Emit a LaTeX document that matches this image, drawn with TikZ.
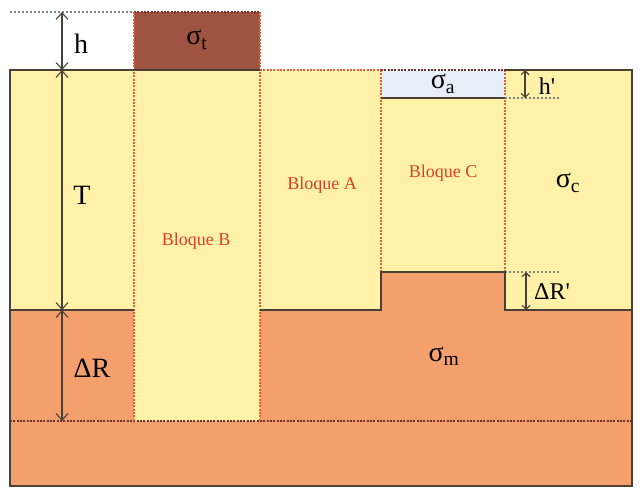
\documentclass[tikz,border=0pt]{standalone}
\usepackage{fontspec}
\setmainfont{Liberation Serif}
\usetikzlibrary{arrows.meta}
\definecolor{yel}{HTML}{FFF2A8}
\definecolor{org}{HTML}{F4A06C}
\definecolor{brn}{HTML}{9E5440}
\definecolor{lblue}{HTML}{E6EEF8}
\definecolor{edge}{HTML}{4A4038}
\definecolor{redl}{HTML}{E0603A}
\definecolor{redt}{HTML}{D8402C}
\tikzset{
  solidedge/.style={draw=edge, line width=1.1pt},
  reddot/.style={draw=redl, dash pattern=on 1.5pt off 1pt, line width=1pt},
  darkdot/.style={draw=edge!80!red, dash pattern=on 1.5pt off 1pt, line width=0.9pt},
  greydot/.style={draw=gray, dash pattern=on 1.5pt off 1.5pt, line width=1pt},
  dim/.style={draw=edge, line width=0.8pt, {Straight Barb[length=5pt,width=9pt]}-{Straight Barb[length=5pt,width=9pt]}},
  dims/.style={draw=edge, line width=0.8pt, {Straight Barb[length=3pt,width=6pt]}-{Straight Barb[length=3pt,width=6pt]}},
  biglab/.style={font=\fontsize{21}{24}\selectfont, text=black, inner sep=0pt},
  midlab/.style={font=\fontsize{18}{21}\selectfont, text=black, inner sep=0pt},
  bloque/.style={font=\fontsize{13.5}{15}\selectfont, text=redt, inner sep=0pt}
}
\begin{document}
\begin{tikzpicture}[x=0.75pt,y=-0.75pt]
\useasboundingbox (0,0) rectangle (642,496);
\fill[white] (0,0) rectangle (642,496);
% fills
\fill[org] (10,310) rectangle (632,486);
\fill[org] (381,272) rectangle (505,310);
\fill[yel] (10,70) rectangle (134,310);
\fill[yel] (134,70) rectangle (260,421);
\fill[yel] (260,70) rectangle (381,310);
\fill[yel] (381,98) rectangle (505,272);
\fill[yel] (505,70) rectangle (632,310);
\fill[lblue] (381,70) rectangle (505,98);
\fill[brn] (134,12) rectangle (260,70);
% dotted guides
\draw[greydot] (10,12) -- (134,12);
\draw[darkdot] (134,12) -- (260,12);
\draw[darkdot] (10,421) -- (632,421);
\draw[greydot] (505,98) -- (560,98);
\draw[greydot] (505,272) -- (560,272);
% red dotted block borders
\draw[reddot] (134,12) -- (134,421);
\draw[reddot] (260,12) -- (260,421);
\draw[reddot] (260,70) -- (381,70);
\draw[reddot] (381,70) -- (381,272);
\draw[reddot] (505,70) -- (505,272);
\draw[darkdot] (381,70) -- (505,70);
% solid edges
\draw[solidedge] (260,70) -- (10,70) -- (10,486) -- (632,486) -- (632,70) -- (505,70);
\draw[solidedge] (381,98) -- (505,98);
\draw[solidedge] (10,310) -- (134,310);
\draw[solidedge] (260,310) -- (381,310) -- (381,272) -- (505,272) -- (505,310) -- (632,310);
% dimension coordinates
\coordinate (hT) at (62,12);
\coordinate (hB) at (62,70);
\coordinate (TB) at (62,310);
\coordinate (RB) at (62,421);
\coordinate (hpT) at (525,70);
\coordinate (hpB) at (525,98);
\coordinate (rpT) at (526,272);
\coordinate (rpB) at (526,310);
\draw[dim] (hT) -- (hB);
\draw[dim] (hB) -- (TB);
\draw[dim] (TB) -- (RB);
\draw[dims] (hpT) -- (hpB);
\draw[dims] (rpT) -- (rpB);
% labels
\node[biglab] (h) at (81,44) {h};
\node[biglab] (T) at (82,195) {T};
\node[biglab] (dR) at (92,368) {ΔR};
\node[midlab] (hp) at (547,86) {h\textquotesingle};
\node[midlab] (dRp) at (552,292) {ΔR\textquotesingle};
\node[biglab] (st) at (197,40) {σ\textsubscript{t}};
\node[biglab] (sa) at (443,84) {σ\textsubscript{a}};
\node[biglab] (sc) at (568,183) {σ\textsubscript{c}};
\node[biglab] (sm) at (444,356) {σ\textsubscript{m}};
\node[bloque] (bB) at (196,241) {Bloque B};
\node[bloque] (bA) at (322,185) {Bloque A};
\node[bloque] (bC) at (443,173) {Bloque C};
\end{tikzpicture}
\end{document}
